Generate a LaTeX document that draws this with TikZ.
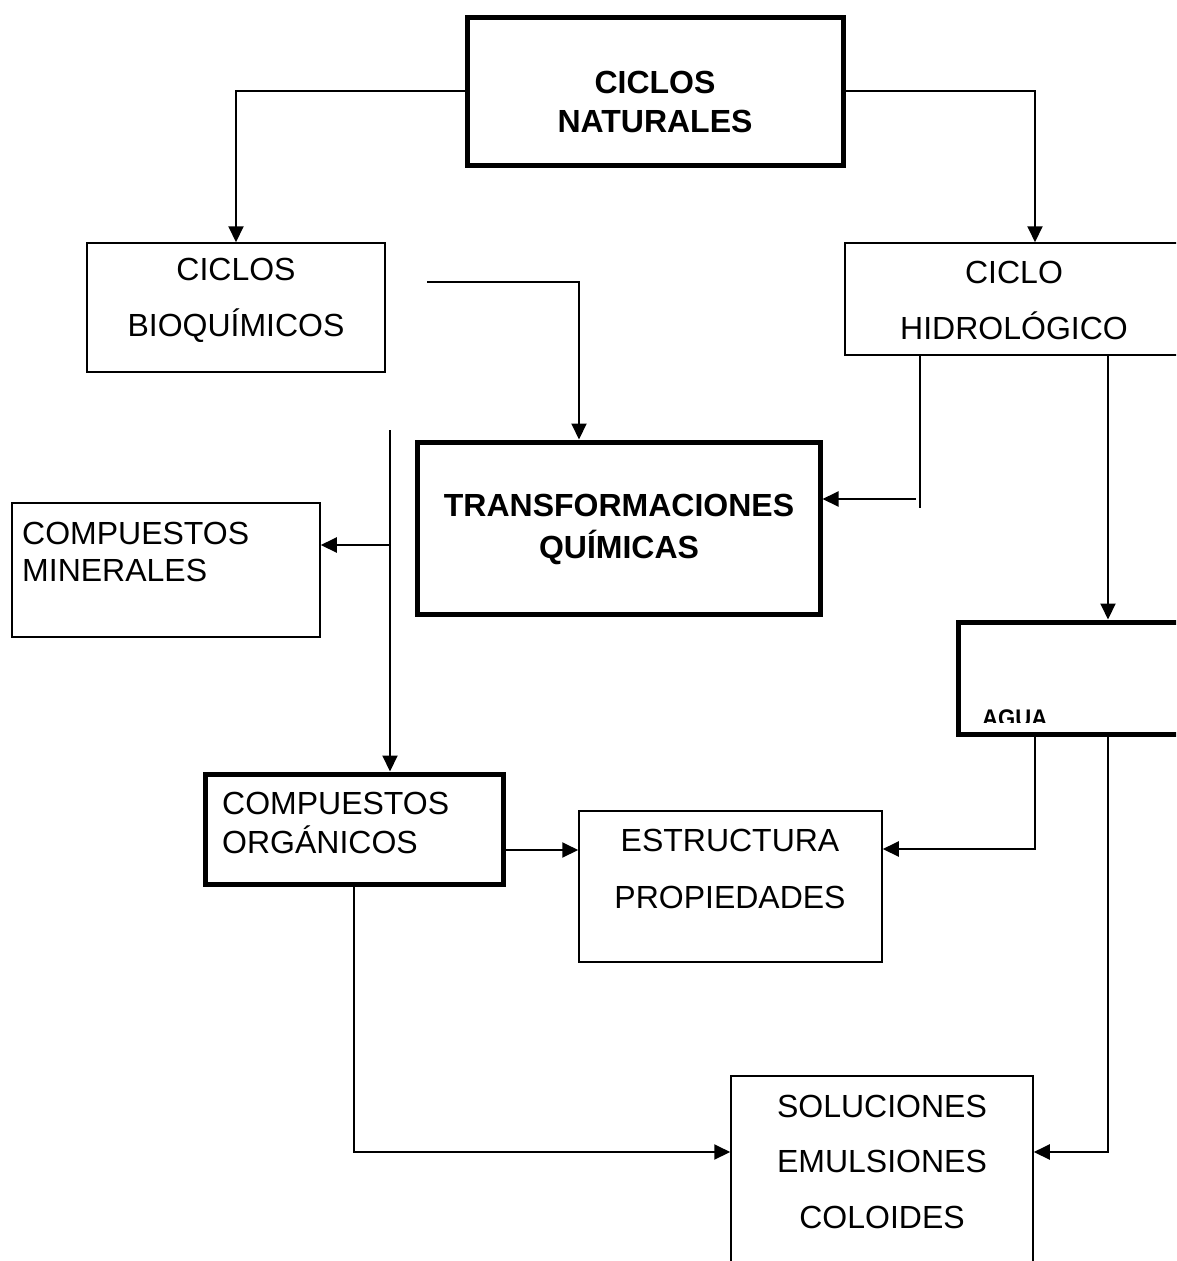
\documentclass[tikz,border=0pt]{standalone}
\usepackage{fontspec}
\setmainfont{Liberation Sans}
\usetikzlibrary{arrows.meta}
\begin{document}
\begin{tikzpicture}[x=1pt,y=-1pt,
  thinbox/.style={draw,line width=1.5pt,inner sep=0pt},
  thickbox/.style={draw,line width=5pt,inner sep=0pt},
  lbl/.style={inner sep=0pt,align=center},
  conn/.style={line width=2pt,-{Triangle[length=16pt,width=15pt]}},
  plain/.style={line width=2pt}
]
\useasboundingbox (0,0) rectangle (1176,1261);
\clip (0,0) rectangle (1176,1261);
% boxes
\node[thickbox,minimum width=376,minimum height=148] (nat) at (655,91) {};
\node[thinbox,minimum width=298,minimum height=129] (bioq) at (236,307.5) {};
\node[thinbox,minimum width=380,minimum height=112] (hidro) at (1035,299) {};
\node[thickbox,minimum width=403,minimum height=172] (trans) at (618.5,528) {};
\node[thinbox,minimum width=308,minimum height=134] (mine) at (166,570) {};
\node[thickbox,minimum width=300,minimum height=112] (agua) at (1108,678) {};
\node[thickbox,minimum width=298,minimum height=110] (org) at (354,829) {};
\node[thinbox,minimum width=303,minimum height=151] (estr) at (730.5,886.5) {};
\node[thinbox,minimum width=302,minimum height=214] (sol) at (882,1183) {};
% texts
\node[lbl,font=\fontsize{32}{39}\selectfont\bfseries] (natt) at (655,101.5) {CICLOS\\NATURALES};
\node[lbl,font=\fontsize{32}{56}\selectfont] (bioqt) at (236,300) {CICLOS\\BIOQUÍMICOS};
\node[lbl,font=\fontsize{32}{56}\selectfont] (hidrot) at (1014,300) {CICLO\\HIDROLÓGICO};
\node[lbl,font=\fontsize{32}{42}\selectfont\bfseries] (transt) at (619,529) {TRANSFORMACIONES\\QUÍMICAS};
\node[lbl,align=left,anchor=west,font=\fontsize{32}{37}\selectfont] (minet) at (22,551.5) {COMPUESTOS\\MINERALES};
\node[lbl,align=left,anchor=west,font=\fontsize{32}{39}\selectfont] (orgt) at (222,822.5) {COMPUESTOS\\ORGÁNICOS};
\node[lbl,font=\fontsize{32}{57}\selectfont] (estrt) at (730,868.5) {ESTRUCTURA\\PROPIEDADES};
\node[lbl,font=\fontsize{32}{55.5}\selectfont] (solt) at (882,1161.5) {SOLUCIONES\\EMULSIONES\\COLOIDES};
\begin{scope}
\clip (958,600) rectangle (1176,722);
\node[inner sep=0pt,anchor=base west,xscale=0.92,font=\fontsize{24}{28}\selectfont\bfseries] (aguat) at (982,726) {AGUA};
\end{scope}
% connectors
\draw[conn] (nat.west) -| (bioq.north);
\draw[conn] (nat.east) -| (hidro.north);
\coordinate (c1) at (427,282);
\coordinate (c1e) at (579,282);
\draw[conn] (c1) -- (c1e) -- (c1e |- trans.north);
\coordinate (v0) at (390,430);
\draw[conn] (v0) -- (v0 |- org.north);
\coordinate (vb) at (390,545);
\draw[conn] (vb) -- (vb -| mine.east);
\coordinate (h1) at (920,508);
\draw[plain] (h1 |- hidro.south) -- (h1);
\coordinate (h2) at (916,499);
\draw[conn] (h2) -- (h2 -| trans.east);
\draw[conn] (hidro.south -| agua.north) -- (agua.north);
\coordinate (a1) at (1035,849);
\draw[conn] (agua.south -| a1) -- (a1) -- (a1 -| estr.east);
\coordinate (a2) at (1108,1152);
\draw[conn] (agua.south) -- (a2) -- (a2 -| sol.east);
\coordinate (o1) at (505,850);
\draw[conn] (o1 -| org.east) -- (o1 -| estr.west);
\coordinate (o2) at (354,1152);
\draw[conn] (org.south) -- (o2) -- (o2 -| sol.west);
\end{tikzpicture}
\end{document}
